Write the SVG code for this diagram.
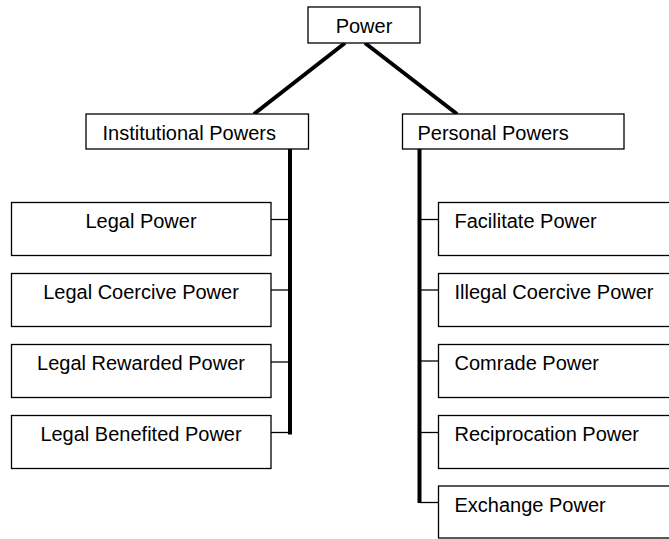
<svg xmlns="http://www.w3.org/2000/svg" width="669" height="539" viewBox="0 0 669 539">
<style>
.box{fill:#fff;stroke:#000;stroke-width:1.3}
.t{font-family:"Liberation Sans",Arial,sans-serif;font-size:20px;fill:#000}
.c{text-anchor:middle}
.thick{stroke:#000;stroke-width:4;fill:none}
.thin{stroke:#000;stroke-width:1.3;fill:none}
</style>
<rect width="669" height="539" fill="#fff"/>
<g id="connectors">
<line class="thick" x1="345" y1="43" x2="254" y2="114"/>
<line class="thick" x1="365" y1="43" x2="457" y2="114"/>
<polyline class="thick" points="290,149 290,432.5 288,432.5"/>
<line class="thin" x1="271" y1="219.5" x2="290" y2="219.5"/>
<line class="thin" x1="271" y1="290" x2="290" y2="290"/>
<line class="thin" x1="271" y1="362" x2="290" y2="362"/>
<line class="thin" x1="271" y1="432.5" x2="290" y2="432.5"/>
<line class="thick" x1="419.5" y1="149" x2="419.5" y2="503"/>
<line class="thin" x1="419.5" y1="219.5" x2="438" y2="219.5"/>
<line class="thin" x1="419.5" y1="290" x2="438" y2="290"/>
<line class="thin" x1="419.5" y1="361" x2="438" y2="361"/>
<line class="thin" x1="419.5" y1="432.5" x2="438" y2="432.5"/>
<line class="thin" x1="419.5" y1="502.5" x2="438" y2="502.5"/>
</g>
<g id="power"><rect class="box" x="308" y="7" width="112" height="36"/><text class="t c" x="364" y="33">Power</text></g>
<g id="institutional"><rect class="box" x="86" y="114" width="222.5" height="35"/><text class="t" x="102.5" y="140">Institutional Powers</text></g>
<g id="personal"><rect class="box" x="402.5" y="114" width="221.5" height="35"/><text class="t" x="417.5" y="140">Personal Powers</text></g>
<g id="legal"><rect class="box" x="11.5" y="202.5" width="259.5" height="53"/><text class="t c" x="141" y="228">Legal Power</text></g>
<g id="legal-coercive"><rect class="box" x="11.5" y="273.5" width="259.5" height="53"/><text class="t c" x="141" y="299">Legal Coercive Power</text></g>
<g id="legal-rewarded"><rect class="box" x="11.5" y="344.5" width="259.5" height="53"/><text class="t c" x="141" y="370">Legal Rewarded Power</text></g>
<g id="legal-benefited"><rect class="box" x="11.5" y="415.5" width="259.5" height="53"/><text class="t c" x="141" y="441">Legal Benefited Power</text></g>
<g id="facilitate"><rect class="box" x="438.5" y="202.5" width="240" height="53"/><text class="t" x="454.5" y="228">Facilitate Power</text></g>
<g id="illegal-coercive"><rect class="box" x="438.5" y="273.5" width="240" height="53"/><text class="t" x="454.5" y="299">Illegal Coercive Power</text></g>
<g id="comrade"><rect class="box" x="438.5" y="344.5" width="240" height="53"/><text class="t" x="454.5" y="370">Comrade Power</text></g>
<g id="reciprocation"><rect class="box" x="438.5" y="415.5" width="240" height="53"/><text class="t" x="454.5" y="441">Reciprocation Power</text></g>
<g id="exchange"><rect class="box" x="438.5" y="486" width="240" height="52"/><text class="t" x="454.5" y="512">Exchange Power</text></g>
</svg>
